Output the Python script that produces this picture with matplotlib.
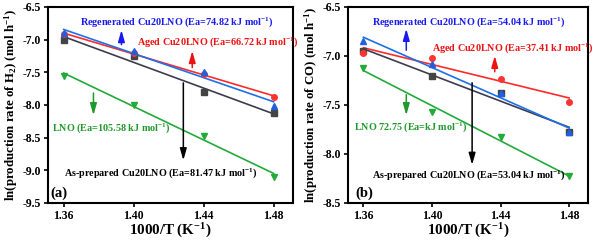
import numpy as np
import matplotlib
matplotlib.use("Agg")
import matplotlib.pyplot as plt

plt.rcParams['font.family'] = 'Liberation Serif'
plt.rcParams['font.weight'] = 'bold'
plt.rcParams['mathtext.fontset'] = 'custom'
plt.rcParams['mathtext.rm'] = 'Liberation Serif:bold'
plt.rcParams['mathtext.default'] = 'rm'

x = [1.36, 1.40, 1.44, 1.48]

# panel (a): H2
h2_asprep = [-7.00, -7.25, -7.80, -8.13]
h2_aged = [-6.92, -7.20, -7.52, -7.88]
h2_regen = [-6.90, -7.17, -7.50, -8.02]
h2_lno = [-7.55, -8.00, -8.47, -9.10]

# panel (b): CO
co_asprep = [-6.95, -7.20, -7.38, -7.78]
co_aged = [-6.97, -7.02, -7.23, -7.47]
co_regen = [-6.85, -7.08, -7.38, -7.78]
co_lno = [-7.12, -7.57, -7.83, -8.23]

labels_a = ["As-prepared Cu20LNO (Ea=81.47 kJ mol$^{-1}$)",
            "Aged Cu20LNO (Ea=66.72 kJ mol$^{-1}$)",
            "Regenerated Cu20LNO (Ea=74.82 kJ mol$^{-1}$)",
            "LNO (Ea=105.58 kJ mol$^{-1}$)"]
labels_b = ["As-prepared Cu20LNO (Ea=53.04 kJ mol$^{-1}$)",
            "Aged Cu20LNO (Ea=37.41 kJ mol$^{-1}$)",
            "Regenerated Cu20LNO (Ea=54.04 kJ mol$^{-1}$)",
            "LNO 72.75 (Ea=kJ mol$^{-1}$)"]

line_cols = ['#3c3c4e', '#ff2a2a', '#1f6fe8', '#22aa3a']
text_cols = ['black', '#ee1111', '#1a1aee', '#1f9a2a']
mark_cols = ['#444444', '#ff3333', '#2060e0', '#22aa3a']
markers = ['s', 'o', '^', 'v']

fig = plt.figure(figsize=(6, 2.41), dpi=100)
axa = fig.add_axes([0.08, 0.158, 0.408, 0.813])
axb = fig.add_axes([0.58, 0.158, 0.40, 0.813])


def draw(ax, series, labels, txt_pos, arrows, tag, tag_pos, ylim, yticks, ylabel):
    xs = np.array(x)
    xf = np.array([1.36, 1.48])
    for i, ys in enumerate(series):
        k, b = np.polyfit(xs, ys, 1)
        ax.plot(xf, k * xf + b, color=line_cols[i], lw=1.2, zorder=2)
        ax.plot(xs, ys, ls='none', marker=markers[i], ms=4, color=mark_cols[i], zorder=3)
        ax.text(txt_pos[i][0], txt_pos[i][1], labels[i], color=text_cols[i],
                fontsize=7.3, fontweight='bold', va='center', ha='left')
        ax0, y0, y1 = arrows[i]
        ax.annotate('', xy=(ax0, y1), xytext=(ax0, y0),
                    arrowprops=dict(arrowstyle='-|>,head_width=0.2,head_length=0.7',
                                    color=text_cols[i], lw=1.1))
    ax.text(tag_pos[0], tag_pos[1], tag, fontsize=10.5, fontweight='bold', va='center')
    ax.set_xlim(1.351, 1.491)
    ax.set_ylim(*ylim)
    ax.set_xticks([1.36, 1.40, 1.44, 1.48])
    ax.set_xticklabels(['1.36', '1.40', '1.44', '1.48'])
    ax.set_yticks(yticks)
    ax.set_yticklabels([f'{v:.1f}' for v in yticks])
    ax.tick_params(labelsize=8.5, width=1.2, length=3, direction='out', pad=2)
    for s in ax.spines.values():
        s.set_linewidth(1.5)
    ax.set_xlabel('1000/T (K$^{-1}$)', fontsize=10.8, fontweight='bold')
    ax.xaxis.set_label_coords(0.5, -0.095)
    ax.set_ylabel(ylabel, fontsize=9.3, fontweight='bold', labelpad=2)


draw(axa, [h2_asprep, h2_aged, h2_regen, h2_lno], labels_a,
     [(1.360, -9.045), (1.402, -7.04), (1.3695, -6.734), (1.3535, -8.356)],
     [(1.4284, -7.62, -8.89), (1.4335, -7.47, -7.13), (1.393, -7.12, -6.81), (1.377, -7.775, -8.20)],
     '(a)', (1.3524, -9.35), (-9.5, -6.5), [-9.5, -9.0, -8.5, -8.0, -7.5, -7.0, -6.5],
     'ln(production rate of H$_2$) (mol h$^{-1}$)')

draw(axb, [co_asprep, co_aged, co_regen, co_lno], labels_b,
     [(1.365, -8.214), (1.400, -6.915), (1.365, -6.65), (1.3543, -7.724)],
     [(1.4234, -7.245, -8.14), (1.4366, -7.19, -6.97), (1.385, -6.97, -6.694), (1.385, -7.367, -7.633)],
     '(b)', (1.3554, -8.398), (-8.5, -6.5), [-8.5, -8.0, -7.5, -7.0, -6.5],
     'ln(production rate of CO) (mol h$^{-1}$)')

fig.savefig('out.png', dpi=100)
